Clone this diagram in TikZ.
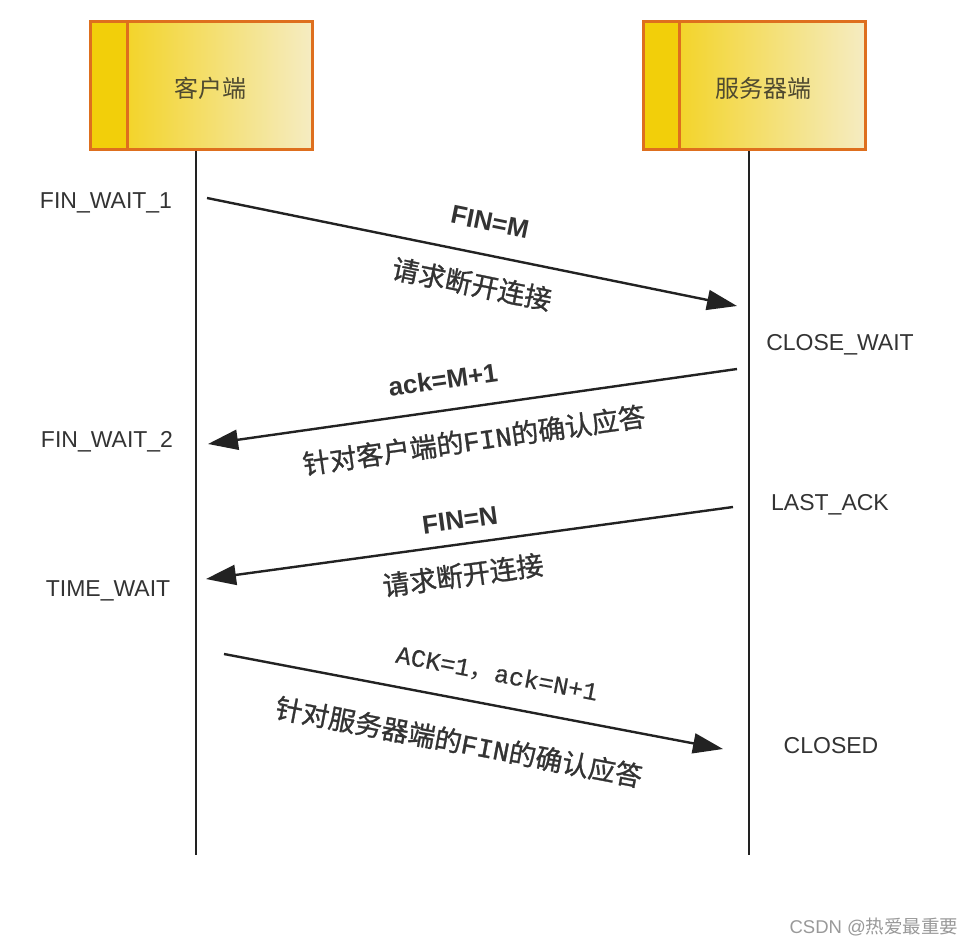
\documentclass[tikz,border=0pt]{standalone}
\usepackage{fontspec}
\setmainfont{Liberation Sans}
\newfontfamily\cjk{Noto Sans CJK SC}
\newfontfamily\cjkb{Noto Sans CJK SC}[FakeBold=1]
\newfontfamily\monof{Liberation Mono}[FakeBold=0.5]
\newfontfamily\monob{Liberation Mono}[FakeBold=1.2]
\usetikzlibrary{arrows.meta}
\definecolor{boxborder}{HTML}{DE6F1E}
\definecolor{stripcol}{HTML}{F2CF0A}
\definecolor{gradL}{HTML}{F3D42A}
\definecolor{gradR}{HTML}{F5ECC2}
\definecolor{boxtext}{HTML}{4F4A30}
\definecolor{txtgray}{HTML}{333333}
\definecolor{linegray}{HTML}{222222}
\definecolor{wmgray}{HTML}{999999}
\begin{document}
\begin{tikzpicture}[x=1pt,y=-1pt,
  state/.style={font=\fontsize{23}{27}\selectfont, text=txtgray, inner sep=0pt},
  msg/.style={draw=linegray, line width=2.4pt, -{Triangle[length=30pt,width=20pt]}},
  lifeline/.style={draw=linegray, line width=2.2pt},
  latlbl/.style={font=\bfseries\fontsize{26}{30}\selectfont, text=txtgray, inner sep=0pt},
  cjklbl/.style={font=\cjkb\fontsize{27}{31}\selectfont, text=txtgray, inner sep=0pt},
  monolbl/.style={font=\monof\fontsize{25}{29}\selectfont, text=txtgray, inner sep=0pt},
  boxtxt/.style={font=\cjk\fontsize{24}{28}\selectfont, text=boxtext, inner sep=0pt},
  boxline/.style={draw=boxborder, line width=3pt},
  ]
\useasboundingbox (0,0) rectangle (975,947);
\fill[white] (0,0) rectangle (975,947);

% client box
\fill[stripcol] (90,22) rectangle (127,150);
\shade[left color=gradL, right color=gradR] (127,22) rectangle (312,150);
\draw[boxline] (90,22) rectangle (312,150);
\draw[boxline] (127,22) -- (127,150);
\node[boxtxt] (clientlbl) at (210,88) {客户端};

% server box
\fill[stripcol] (643,22) rectangle (679,150);
\shade[left color=gradL, right color=gradR] (679,22) rectangle (865,150);
\draw[boxline] (643,22) rectangle (865,150);
\draw[boxline] (679,22) -- (679,150);
\node[boxtxt] (serverlbl) at (763,88) {服务器端};

% lifelines
\coordinate (ctop) at (196,151.5);
\coordinate (cbot) at (196,855);
\coordinate (stop) at (749,151.5);
\coordinate (sbot) at (749,855);
\draw[lifeline] (ctop) -- (cbot);
\draw[lifeline] (stop) -- (sbot);

% states
\node[state] (fw1) at (106,203) {FIN\_WAIT\_1};
\node[state] (cw) at (840,345) {CLOSE\_WAIT};
\node[state] (fw2) at (107,442) {FIN\_WAIT\_2};
\node[state] (la) at (830,505) {LAST\_ACK};
\node[state] (tw) at (108,591) {TIME\_WAIT};
\node[state] (cl) at (831,746) {CLOSED};

% message endpoints
\coordinate (m1a) at (207,198);
\coordinate (m1b) at (737,306);
\coordinate (m2a) at (737,369);
\coordinate (m2b) at (208,444);
\coordinate (m3a) at (733,507);
\coordinate (m3b) at (206,579);
\coordinate (m4a) at (224,654);
\coordinate (m4b) at (723,749);

\draw[msg] (m1a) -- (m1b);
\draw[msg] (m2a) -- (m2b);
\draw[msg] (m3a) -- (m3b);
\draw[msg] (m4a) -- (m4b);

% message labels
\node[latlbl, rotate=-11.5] (l1a) at (490,222) {FIN=M};
\node[cjklbl, rotate=-11.5] (l1b) at (472,284) {请求断开连接};
\node[latlbl, rotate=8.1] (l2a) at (443,380) {ack=M+1};
\node[cjklbl, rotate=8.1] (l2b) at (474,440) {针对客户端的{\monob FIN}的确认应答};
\node[latlbl, rotate=7.8] (l3a) at (460,520) {FIN=N};
\node[cjklbl, rotate=7.8] (l3b) at (463,575) {请求断开连接};
\node[monolbl, rotate=-10.8] (l4a) at (497,674) {ACK=1{\cjk ，}ack=N+1};
\node[cjklbl, rotate=-10.8] (l4b) at (459,742) {针对服务器端的{\monob FIN}的确认应答};

% watermark
\node[font=\fontsize{18.5}{22}\selectfont, text=wmgray, inner sep=0pt] (wm) at (874,927) {CSDN @{\cjk 热爱最重要}};
\end{tikzpicture}
\end{document}
